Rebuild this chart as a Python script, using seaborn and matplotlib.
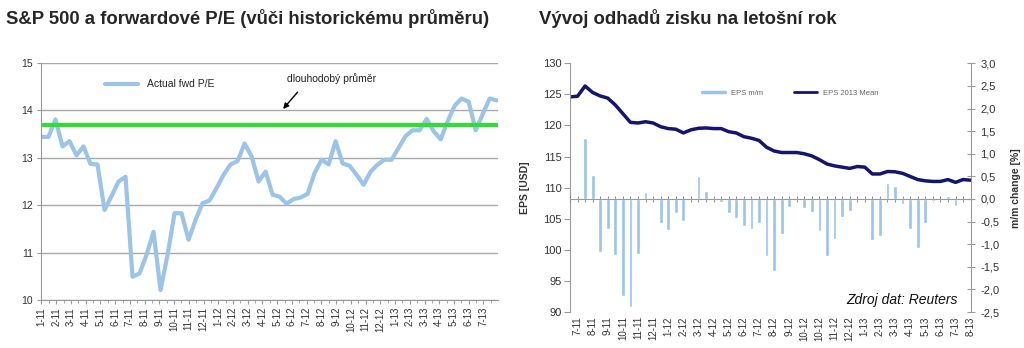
import numpy as np
import matplotlib
matplotlib.use('Agg')
import matplotlib.pyplot as plt
import seaborn as sns
from matplotlib.lines import Line2D
from matplotlib.ticker import FuncFormatter

# left chart data: forward P/E (semi-monthly readings)
pe = [13.44, 13.44, 13.81, 13.24, 13.35, 13.05, 13.24, 12.87, 12.86, 11.90,
      12.19, 12.50, 12.60, 10.49, 10.56, 10.95, 11.44, 10.21, 10.95, 11.83,
      11.83, 11.27, 11.69, 12.04, 12.10, 12.36, 12.64, 12.86, 12.93, 13.30,
      13.03, 12.50, 12.71, 12.22, 12.18, 12.03, 12.13, 12.16, 12.24, 12.68,
      12.96, 12.86, 13.35, 12.88, 12.83, 12.64, 12.43, 12.71, 12.86, 12.96,
      12.96, 13.21, 13.46, 13.58, 13.58, 13.82, 13.56, 13.39, 13.77, 14.10,
      14.25, 14.18, 13.58, 13.92, 14.25, 14.21]
pe_avg = 13.7
left_months = ['1-11', '2-11', '3-11', '4-11', '5-11', '6-11', '7-11', '8-11',
               '9-11', '10-11', '11-11', '12-11', '1-12', '2-12', '3-12', '4-12',
               '5-12', '6-12', '7-12', '8-12', '9-12', '10-12', '11-12', '12-12',
               '1-13', '2-13', '3-13', '4-13', '5-13', '6-13', '7-13']

# right chart data: EPS 2013 mean estimate and its m/m change
eps = [124.6, 124.7, 126.35, 125.3, 124.75, 124.4, 123.3, 121.9, 120.5, 120.4,
       120.6, 120.4, 119.8, 119.5, 119.4, 118.8, 119.3, 119.55, 119.6, 119.5,
       119.5, 119.0, 118.8, 118.2, 117.95, 117.6, 116.5, 115.9, 115.65, 115.65,
       115.65, 115.45, 115.1, 114.5, 113.8, 113.5, 113.3, 113.1, 113.4, 113.3,
       112.2, 112.2, 112.6, 112.55, 112.3, 111.8, 111.3, 111.1, 111.0, 111.0,
       111.3, 110.85, 111.3, 111.2]
eps_mm = [0, 0, 1.34, 0.52, -1.17, -0.67, -1.25, -2.15, -2.40, -1.21,
          0.15, 0, -0.54, -0.69, -0.32, -0.48, 0, 0.50, 0.18, 0,
          -0.07, -0.32, -0.43, -0.59, -0.67, -0.53, -1.27, -1.59, -0.78, -0.18,
          0, -0.21, -0.29, -0.70, -1.26, -0.89, -0.40, -0.27, 0, 0,
          -0.91, -0.82, 0.35, 0.28, -0.12, -0.66, -1.08, -0.53, -0.05, 0,
          0.06, -0.15, 0, 0]
right_months = ['7-11', '8-11', '9-11', '10-11', '11-11', '12-11', '1-12', '2-12',
                '3-12', '4-12', '5-12', '6-12', '7-12', '8-12', '9-12', '10-12',
                '10-12', '11-12', '12-12', '1-13', '2-13', '3-13', '4-13', '5-13',
                '6-13', '7-13', '8-13']

blue = '#9cc3e8'
navy = '#15156b'
green = '#2fdf2f'
gray = '#9a9a9a'
txt = '#333333'

sns.set_style('white')
plt.rcParams['font.family'] = ['Liberation Sans', 'DejaVu Sans']

fig = plt.figure(figsize=(10.24, 3.48), dpi=100)

# ---- left chart
axL = fig.add_axes([0.0405, 0.138, 0.446, 0.681])
pe_x = np.linspace(0, 30.9, len(pe))
sns.lineplot(x=pe_x, y=pe, ax=axL, color=blue, lw=3, label='Actual fwd P/E')
axL.axhline(pe_avg, color=green, lw=3)
axL.set_xlim(0, 31)
axL.set_ylim(10, 15)
axL.set_yticks(range(10, 16))
axL.yaxis.grid(True, color='#a8a8a8', lw=1)
axL.set_xticks(range(31))
axL.set_xticklabels(left_months, rotation=90)
axL.set_xticks(np.arange(0.5, 31, 1), minor=True)
for s in ['top', 'right']:
    axL.spines[s].set_visible(False)
for s in ['left', 'bottom']:
    axL.spines[s].set_color(gray)
axL.tick_params(axis='y', length=3, color=gray, labelcolor=txt,
                labelsize=7.5, left=True, pad=3)
axL.tick_params(axis='x', which='major', length=3, color=gray, labelcolor=txt,
                labelsize=7, bottom=True, pad=2)
axL.tick_params(axis='x', which='minor', length=2, color=gray, bottom=True)
axL.legend(loc='center left', bbox_to_anchor=(0.13, 0.91), frameon=False,
           fontsize=7.5, handlelength=3.2, borderaxespad=0)
axL.annotate('dlouhodobý průměr', xy=(16.4, 14.03), xytext=(19.7, 14.68),
             ha='center', va='center', fontsize=7.5, color='#222222',
             arrowprops=dict(arrowstyle='-|>', color='black', lw=1,
                             relpos=(0.2, 0), shrinkA=5, shrinkB=0,
                             mutation_scale=8))

# ---- right chart
axE = fig.add_axes([0.5566, 0.1034, 0.3913, 0.7147])
axM = axE.twinx()
idx = list(range(len(eps)))
sns.barplot(x=idx, y=eps_mm, ax=axM, color=blue, width=0.5, saturation=1)
sns.lineplot(x=idx, y=eps, ax=axE, color=navy, lw=2.5)

axE.set_xlim(0, len(eps) - 1)
axE.set_ylim(90, 130)
axM.set_ylim(-2.5, 3.0)
axE.set_yticks(range(90, 131, 5))
axM.set_yticks(np.arange(-2.5, 3.01, 0.5))
axM.yaxis.set_major_formatter(FuncFormatter(lambda v, p: f'{v:.1f}'.replace('.', ',')))

axE.set_xticks(range(1, len(eps), 2))
axE.set_xticklabels(right_months, rotation=90)
axM.set_xticks(idx, minor=True)
axM.xaxis.remove_overlapping_locs = False
axM.xaxis.set_visible(True)
axM.spines['bottom'].set_position(('data', 0))
axM.spines['bottom'].set_visible(True)
axM.spines['bottom'].set_color(gray)
axM.tick_params(axis='x', which='major', bottom=False, labelbottom=False)
axM.tick_params(axis='x', which='minor', bottom=True, direction='inout', length=5,
                color='#777777')
axE.tick_params(axis='x', which='both', length=0, labelsize=7, labelcolor=txt, pad=3)
axE.tick_params(axis='y', left=True, length=4, color=gray, labelsize=8,
                labelcolor=txt, pad=2)
axM.tick_params(axis='y', right=True, direction='inout', length=6, color=gray,
                labelsize=8, labelcolor=txt, pad=4)

for s in ['top', 'right', 'bottom']:
    axE.spines[s].set_visible(False)
axE.spines['left'].set_color(gray)
for s in ['top', 'left']:
    axM.spines[s].set_visible(False)
axM.spines['right'].set_color(gray)

axE.set_ylabel('EPS [USD]', fontsize=7.5, fontweight='bold', color=txt)
axE.yaxis.set_label_coords(-0.1, 0.5)
axM.set_ylabel('m/m change [%]', fontsize=7.5, fontweight='bold', color=txt)
axM.yaxis.set_label_coords(1.1, 0.5)

handles = [Line2D([], [], color=blue, lw=2.5), Line2D([], [], color=navy, lw=2)]
axM.legend(handles, ['EPS m/m', 'EPS 2013 Mean'], loc='center',
           bbox_to_anchor=(0.55, 0.88), ncol=2, frameon=False, fontsize=5.5,
           handlelength=3, columnspacing=4, labelcolor='#666666')
axM.text(0.968, 0.05, 'Zdroj dat: Reuters', transform=axM.transAxes, ha='right',
         va='center', fontsize=10, style='italic', color='#111111')

# titles
fig.text(0.006, 0.948, 'S&P 500 a forwardové P/E (vůči historickému průměru)',
         fontsize=13.3, fontweight='bold', va='center')
fig.text(0.526, 0.948, 'Vývoj odhadů zisku na letošní rok',
         fontsize=13.3, fontweight='bold', va='center')

fig.savefig('out.png', dpi=100)
